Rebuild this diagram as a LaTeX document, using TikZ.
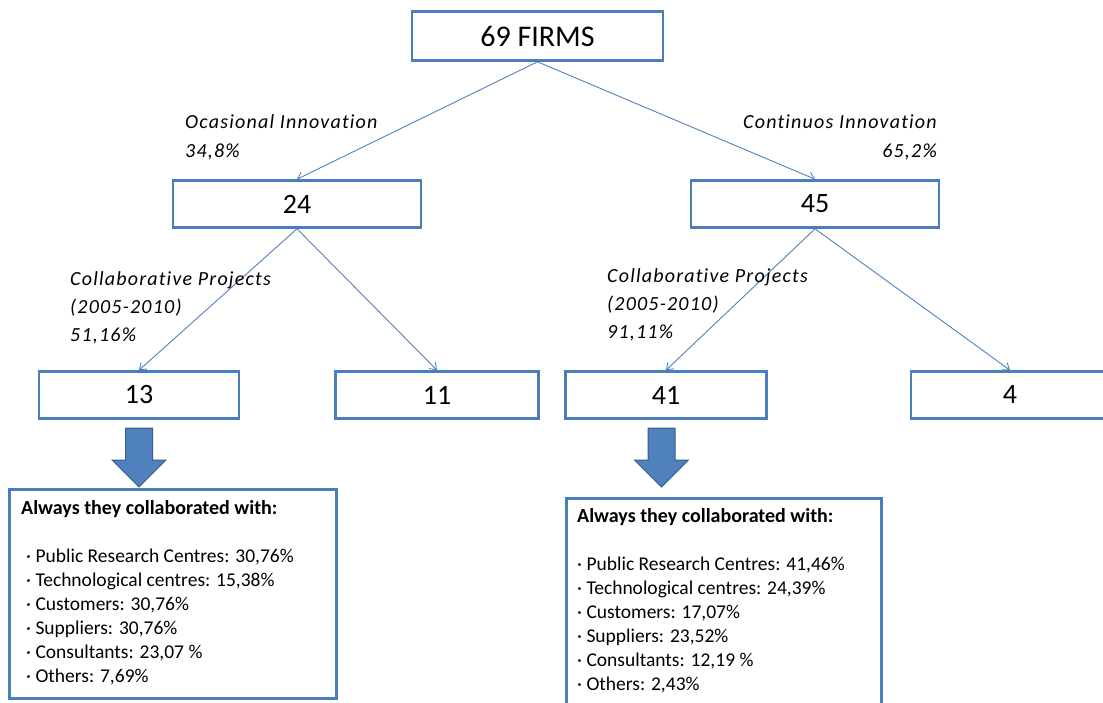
\documentclass[tikz,border=0pt]{standalone}
\usepackage{fontspec}
\setmainfont{Carlito}
\usetikzlibrary{arrows.meta}
\definecolor{boxblue}{HTML}{4F81BD}
\definecolor{edgeblue}{HTML}{4A7EBB}
\definecolor{arrowline}{HTML}{385D8A}
\begin{document}
\begin{tikzpicture}[x=1pt,y=-1pt,
  numbox/.style={draw=edgeblue, line width=2.6pt, fill=white, rectangle, inner sep=0pt,
    minimum height=47pt, font=\fontsize{28}{30}\selectfont},
  link/.style={draw=boxblue, line width=0.9pt, -{Straight Barb[length=6pt,width=9pt]}},
  branch/.style={font=\fontsize{20}{28}\selectfont\itshape\addfontfeature{LetterSpace=6,Ligatures=NoCommon},
    inner sep=0pt, align=left},
  listbox/.style={draw=edgeblue, line width=2.6pt, rectangle, inner sep=0pt, anchor=north west},
  listtext/.style={font=\fontsize{19.5}{24}\selectfont, inner sep=0pt, anchor=north west, align=left},
  listhead/.style={font=\fontsize{20}{24}\selectfont\bfseries, inner sep=0pt, anchor=north west},
  bigarrow/.style={fill=boxblue, draw=arrowline, line width=1pt}]
\useasboundingbox (0,0) rectangle (1103,702);
\clip (0,0) rectangle (1103,702);

% tree of firm counts
\node[numbox, minimum width=251pt, minimum height=49pt, font=\fontsize{30}{32}\selectfont]
  (firms) at (537.5,36) {69 FIRMS};
\node[numbox, minimum width=248pt] (n24) at (297,204) {24};
\node[numbox, minimum width=248pt] (n45) at (815,204) {45};
\node[numbox, minimum width=200pt] (n13) at (139,395) {13};
\node[numbox, minimum width=203pt] (n11) at (437,395) {11};
\node[numbox, minimum width=201pt] (n41) at (666,395) {41};
\node[numbox, minimum width=198pt] (n4)  at (1010,395) {4};

\draw[link] (firms.south) -- (n24.north);
\draw[link] (firms.south) -- (n45.north);
\draw[link] (n24.south) -- (n13.north);
\draw[link] (n24.south) -- (n11.north);
\draw[link] (n45.south) -- (n41.north);
\draw[link] (n45.south) -- (n4.north);

% branch labels
\node[branch, anchor=north west] (occ) at (185,108)
  {\rule{0pt}{20pt}Ocasional Innovation\\[1pt]34,8\%};
\node[branch, anchor=north east, align=right] (cont) at (937,108)
  {\rule{0pt}{20pt}Continuos Innovation\\[1pt]65,2\%};
\node[branch, anchor=north west] (collL) at (70,265)
  {\rule{0pt}{20pt}Collaborative Projects\\(2005-2010)\\51,16\%};
\node[branch, anchor=north west] (collR) at (607,262)
  {\rule{0pt}{20pt}Collaborative Projects\\(2005-2010)\\91,11\%};

% block arrows down to the partner lists
\foreach \cx in {139,661.5}
  \draw[bigarrow] (\cx-13.5,428) -- (\cx+13.5,428) -- (\cx+13.5,460) -- (\cx+27,460)
    -- (\cx,487) -- (\cx-27,460) -- (\cx-13.5,460) -- cycle;

% partner lists
\node[listbox, minimum width=327pt, minimum height=209pt] (listL) at (8,488) {};
\node[listbox, minimum width=315pt, minimum height=212pt] (listR) at (565,497) {};

\node[listhead] (headL) at (21,496) {\rule{0pt}{18pt}Always they collaborated with:};
\node[listtext] (itemsL) at (26,544) {\rule{0pt}{18pt}· Public Research Centres: 30,76\%\\
  · Technological centres: 15,38\%\\
  · Customers: 30,76\%\\
  · Suppliers: 30,76\%\\
  · Consultants: 23,07 \%\\
  · Others: 7,69\%};

\node[listhead] (headR) at (577,504) {\rule{0pt}{18pt}Always they collaborated with:};
\node[listtext] (itemsR) at (577,552) {\rule{0pt}{18pt}· Public Research Centres: 41,46\%\\
  · Technological centres: 24,39\%\\
  · Customers: 17,07\%\\
  · Suppliers: 23,52\%\\
  · Consultants: 12,19 \%\\
  · Others: 2,43\%};
\end{tikzpicture}
\end{document}
